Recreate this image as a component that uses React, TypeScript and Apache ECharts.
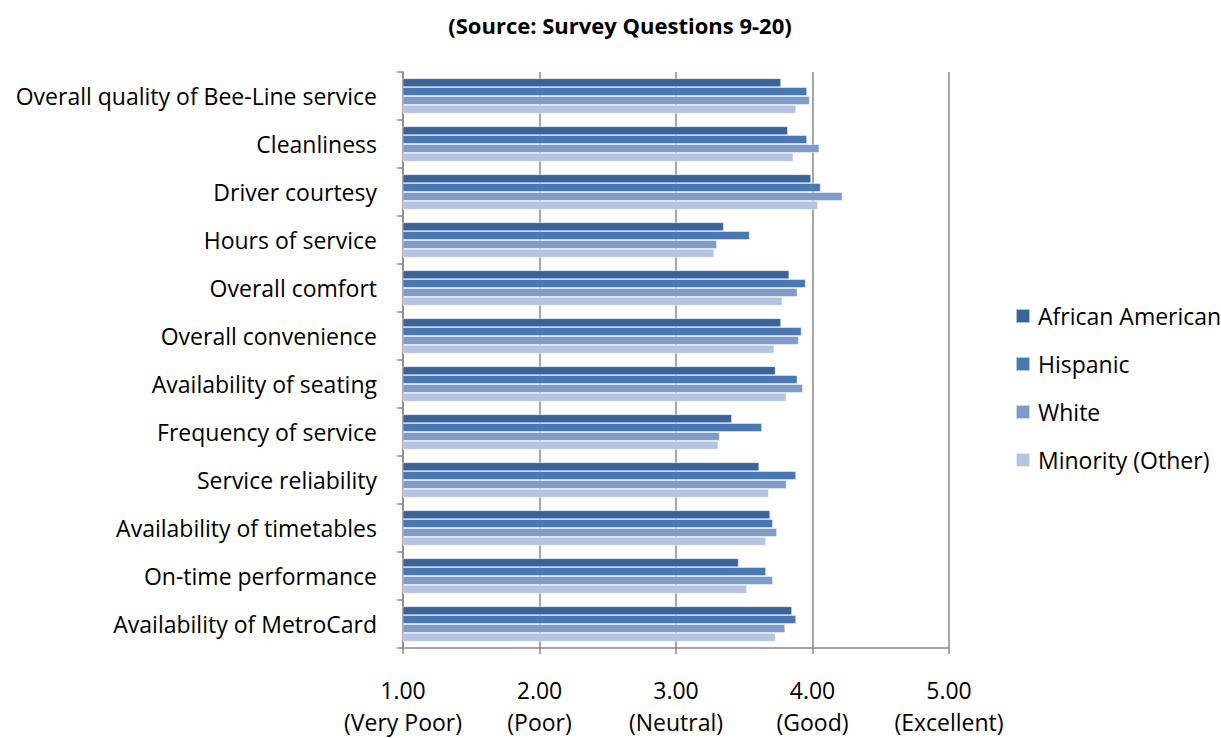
import React, { useEffect, useRef } from "react";
import * as echarts from "echarts";

const categories = [
  "Overall quality of Bee-Line service",
  "Cleanliness",
  "Driver courtesy",
  "Hours of service",
  "Overall comfort",
  "Overall convenience",
  "Availability of seating",
  "Frequency of service",
  "Service reliability",
  "Availability of timetables",
  "On-time performance",
  "Availability of MetroCard",
];

const seriesNames = ["African American", "Hispanic", "White", "Minority (Other)"];

const africanAmerican = [3.77, 3.82, 3.99, 3.35, 3.83, 3.77, 3.73, 3.41, 3.61, 3.69, 3.46, 3.85];
const hispanic = [3.96, 3.96, 4.06, 3.54, 3.95, 3.92, 3.89, 3.63, 3.88, 3.71, 3.66, 3.88];
const white = [3.98, 4.05, 4.22, 3.3, 3.89, 3.9, 3.93, 3.32, 3.81, 3.74, 3.71, 3.8];
const minorityOther = [3.88, 3.86, 4.04, 3.28, 3.78, 3.72, 3.81, 3.31, 3.68, 3.66, 3.52, 3.73];

const tickLabels: Record<string, string> = {
  "1": "1.00\n(Very Poor)",
  "2": "2.00\n(Poor)",
  "3": "3.00\n(Neutral)",
  "4": "4.00\n(Good)",
  "5": "5.00\n(Excellent)",
};

const colors = ["#3B6496", "#4877B1", "#7D9CCA", "#B5C4E0"];

const FONT = "'Open Sans', sans-serif";

export default function App() {
  const ref = useRef<HTMLDivElement>(null);
  useEffect(() => {
    if (!ref.current) return;
    const chart = echarts.init(ref.current, undefined, { renderer: "svg" });
    const data = [africanAmerican, hispanic, white, minorityOther];
    chart.setOption({
      animation: false,
      textStyle: { fontFamily: FONT },
      title: {
        text: "(Source: Survey Questions 9-20)",
        left: 615,
        textAlign: "center",
        top: 9,
        textStyle: { fontFamily: FONT, fontSize: 22, fontWeight: "bold", color: "#000" },
      },
      legend: {
        orient: "vertical",
        left: 1010,
        top: 298,
        itemWidth: 14,
        itemHeight: 14,
        itemGap: 22,
        icon: "rect",
        textStyle: { fontFamily: FONT, fontSize: 23, color: "#000", lineHeight: 26, padding: [0, 0, 0, 3] },
        data: seriesNames,
      },
      grid: { left: 403, right: 272, top: 72, bottom: 82, containLabel: false },
      xAxis: {
        type: "value",
        min: 1,
        max: 5,
        interval: 1,
        axisLine: { show: true, lineStyle: { color: "#888", width: 1.5 } },
        axisTick: { show: true, length: 6, lineStyle: { color: "#888", width: 1.5 } },
        splitLine: { show: true, lineStyle: { color: "#888", width: 1.5 } },
        axisLabel: {
          formatter: (v: number) => tickLabels[String(v)] || "",
          fontFamily: FONT,
          fontSize: 23,
          color: "#000",
          lineHeight: 32,
          margin: 26,
        },
      },
      yAxis: {
        type: "category",
        data: categories,
        inverse: true,
        axisLine: { show: true, lineStyle: { color: "#888", width: 1.5 } },
        axisTick: { show: true, length: 6, lineStyle: { color: "#888", width: 1.5 } },
        axisLabel: { fontFamily: FONT, fontSize: 23, color: "#000", margin: 26 },
      },
      series: seriesNames.map((name, i) => ({
        name,
        type: "bar",
        data: data[i],
        barGap: "0%",
        barCategoryGap: "26%",
        itemStyle: { color: colors[i], borderColor: "rgba(255,255,255,0.6)", borderWidth: 0.8 },
      })),
    });
    return () => chart.dispose();
  }, []);
  return <div ref={ref} style={{ width: 1221, height: 738, position: "absolute", left: 0, top: 0 }} />;
}
